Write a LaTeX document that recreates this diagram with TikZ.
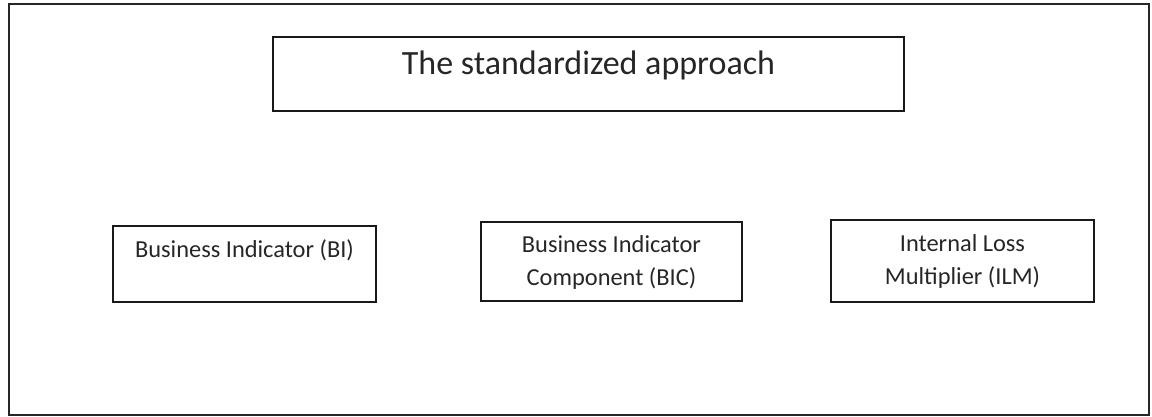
\documentclass[tikz,border=0pt]{standalone}
\usepackage{fontspec}
\setmainfont{Carlito}
\usetikzlibrary{positioning}

\begin{document}
\begin{tikzpicture}
    [
      x=1pt, y=-1pt,
      frame/.style={draw, line width=2pt, black!85},
      my box/.style={rectangle, draw, line width=1.3pt, black!90, minimum width=#1, inner sep=0pt},
      my label/.style={anchor=north, align=center, inner sep=0pt, text=black!85,
        font=\fontsize{24.4}{33}\selectfont}
    ]
    \useasboundingbox (0,0) rectangle (1152,417);
    \draw [frame] (9,4) rectangle (1149,415);
    \node (std) [my box=631pt, minimum height=74pt] at (588.5,74) {};
    \node (bi) [my box=263pt, minimum height=76pt] at (244.5,264) {};
    \node (bic) [my box=261pt, minimum height=79pt] at (611.5,261.5) {};
    \node (ilm) [my box=263pt, minimum height=82pt] at (962.5,261) {};
    \node [my label, below=14pt of std.north, font=\fontsize{34}{40}\selectfont] {The standardized approach};
    \node [my label, below=14pt of bi.north] {Business Indicator (BI)};
    \node [my label, below=14pt of bic.north] {Business Indicator\\Component (BIC)};
    \node [my label, below=15pt of ilm.north] {Internal Loss\\Multiplier (ILM)};
\end{tikzpicture}
\end{document}
